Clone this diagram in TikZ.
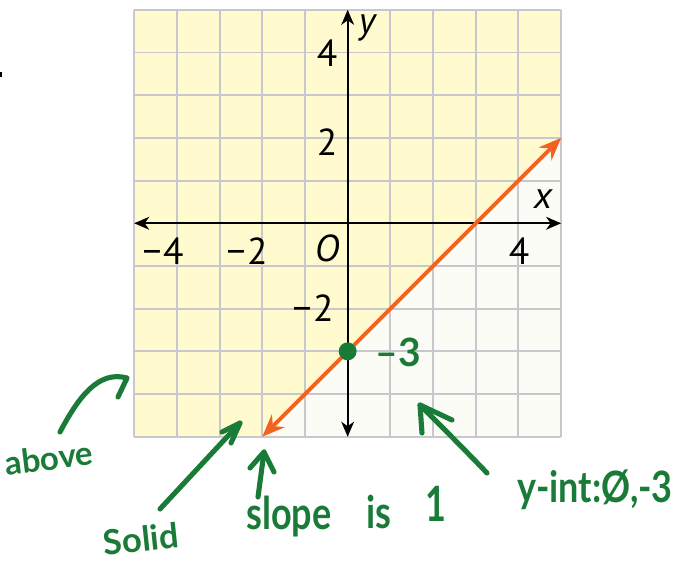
\documentclass[tikz,border=0pt]{standalone}
\usepackage{fontspec}
\setmainfont{PT Sans}
\newfontfamily\handfont{Lato}
\usetikzlibrary{arrows.meta}
\definecolor{areayellow}{RGB}{255,251,206}
\definecolor{areawhite}{RGB}{252,252,246}
\definecolor{gridgray}{RGB}{200,200,204}
\definecolor{lineorange}{RGB}{242,99,34}
\definecolor{pengreen}{RGB}{25,123,55}
\tikzset{
  axislabel/.style={font=\fontsize{25}{27}\selectfont, inner sep=0pt},
  axisline/.style={black, line width=1.4pt, {Stealth[length=10pt,width=8.5pt,inset=3pt]}-{Stealth[length=10pt,width=8.5pt,inset=3pt]}},
  graphline/.style={lineorange, line width=2.6pt, {Stealth[length=15pt,width=12pt,inset=5pt]}-{Stealth[length=15pt,width=12pt,inset=5pt]}},
  pen/.style={pengreen, line width=3.4pt, line cap=round, line join=round},
  handtext/.style={pengreen, font=\handfont\bfseries\fontsize{24}{26}\selectfont, inner sep=0pt},
}
\begin{document}
\begin{tikzpicture}[x=0.023419cm,y=-0.023419cm]
\useasboundingbox (0,0) rectangle (693,564);
\fill (0,72) rectangle (2,77);
\begin{scope}[shift={(8.1428cm,-5.2295cm)},x=1cm,y=1cm]
  \fill[areayellow] (-5,5) -- (5,5) -- (5,2) -- (-2,-5) -- (-5,-5) -- cycle;
  \fill[areawhite] (-2,-5) -- (5,2) -- (5,-5) -- cycle;
  \draw[gridgray, line width=1.3pt] (-5,-5) grid (5,5);
  \coordinate (xl) at (-5,0);
  \coordinate (xr) at (5,0);
  \coordinate (yb) at (0,-5);
  \coordinate (yt) at (0,5);
  \coordinate (la) at (-2,-5);
  \coordinate (lb) at (5,2);
  \coordinate (yint) at (0,-3);
  \draw[axisline] (xl) -- (xr);
  \draw[axisline] (yb) -- (yt);
  \draw[graphline] (la) -- (lb);
  \fill[pengreen] (yint) circle (0.21);
\end{scope}
% axis labels
\node[axislabel] (xm4) at (163,251) {−\kern1pt4};
\node[axislabel] (xm2) at (247,251) {−\kern1pt2};
\node[axislabel] (orig) at (327,248) {\itshape O};
\node[axislabel] (xp4) at (519,251) {4};
\node[axislabel] (yp4) at (327,53) {4};
\node[axislabel] (yp2) at (327,142) {2};
\node[axislabel] (ym2) at (313,308) {−\kern1pt2};
\node[axislabel] (ylab) at (367,28) {\itshape y};
\node[axislabel] (xlab) at (543,199) {\itshape x};
% handwritten notes
\node[handtext, font=\handfont\bfseries\fontsize{26}{28}\selectfont] (m3) at (398,352) {–3};
\node[handtext, rotate=7, font=\handfont\bfseries\fontsize{22}{24}\selectfont] (above) at (49,458) {above};
\node[handtext, rotate=6, font=\handfont\bfseries\fontsize{23}{25}\selectfont] (solid) at (141,539) {Solid};
\node[handtext, yscale=1.25] (slope) at (289,517) {slope};
\node[handtext, yscale=1.25] (is) at (379,512) {is};
\node[handtext, yscale=1.35] (one) at (436,504) {1};
\node[handtext, yscale=1.2] (yi) at (595,490) {y-int:Ø,-3};
% note arrows
\coordinate (aT) at (60,432);
\coordinate (aH) at (127,378);
\coordinate (aB) at (118,397);
\draw[pen] (aT) .. controls (78,398) and (98,370) .. (aH) -- (aB);
\coordinate (sT) at (160,509);
\coordinate (sH) at (240,423);
\draw[pen] (sT) -- (sH);
\draw[pen] (222,432) -- (sH) -- (231,443);
\coordinate (pT) at (258,497);
\coordinate (pH) at (264,452);
\draw[pen] (pT) -- (pH);
\draw[pen] (250,468) -- (pH) -- (274,472);
\coordinate (iT) at (487,473);
\coordinate (iH) at (420,405);
\draw[pen] (iT) .. controls (465,450) and (440,425) .. (iH);
\draw[pen] (422,433) -- (iH) -- (452,420);
\end{tikzpicture}
\end{document}
